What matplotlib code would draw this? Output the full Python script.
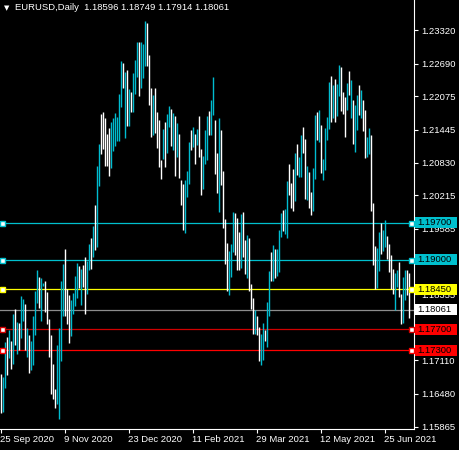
import matplotlib
matplotlib.use("Agg")
import matplotlib.pyplot as plt
from matplotlib.patches import Rectangle
from matplotlib.transforms import blended_transform_factory

plt.rcParams['font.family'] = ['Liberation Sans', 'DejaVu Sans']

# ---- data ----
symbol = "EURUSD,Daily"
last_ohlc = [1.18596, 1.18749, 1.17914, 1.18061]

highs = [
    1.16853, 1.16796, 1.17454, 1.17548, 1.17680, 1.17473, 1.17981, 1.18075, 1.17830, 1.17812,
    1.18319, 1.18263, 1.18169, 1.17718, 1.17586, 1.17473, 1.17943, 1.18413, 1.18808, 1.18676,
    1.18658, 1.18564, 1.18601, 1.18394, 1.17887, 1.17586, 1.17041, 1.16571, 1.17398, 1.17718,
    1.18601, 1.18921, 1.19203, 1.18451, 1.18338, 1.18244, 1.18376, 1.18695, 1.18940, 1.18883,
    1.18827, 1.18902, 1.19052, 1.18977, 1.19297, 1.19410, 1.19635, 1.20030, 1.20763, 1.21177,
    1.21741, 1.21778, 1.21666, 1.21365, 1.21478, 1.21590, 1.21666, 1.21760, 1.21684, 1.22117,
    1.22737, 1.22700, 1.22530, 1.22568, 1.22211, 1.22154, 1.22512, 1.22756, 1.23094, 1.23094,
    1.23094, 1.23057, 1.23489, 1.23452, 1.22850, 1.22230, 1.22098, 1.22230, 1.21778, 1.21628,
    1.20876, 1.21459, 1.21590, 1.21741, 1.21891, 1.21835, 1.21760, 1.21703, 1.21572, 1.21365,
    1.20500, 1.20425, 1.20500, 1.20669, 1.21214, 1.21440, 1.21496, 1.21365, 1.21459, 1.21703,
    1.21083, 1.20951, 1.21440, 1.21703, 1.21797, 1.22004, 1.22436, 1.21628, 1.21008, 1.21666,
    1.21440, 1.20669, 1.19767, 1.19316, 1.19165, 1.19297, 1.19898, 1.19880, 1.19786, 1.19522,
    1.19861, 1.19898, 1.19372, 1.19466, 1.19410, 1.18545, 1.18282, 1.18056, 1.17943, 1.17736,
    1.17605, 1.17812, 1.17680, 1.18206, 1.18789, 1.19146, 1.19278, 1.19203, 1.19203, 1.19560,
    1.19880, 1.19936, 1.19955, 1.20481, 1.20801, 1.20444, 1.20707, 1.21008, 1.21177, 1.20932,
    1.21346, 1.21496, 1.21271, 1.20763, 1.20650, 1.20274, 1.20726, 1.21722, 1.21778, 1.21816,
    1.21534, 1.20895, 1.21478, 1.21684, 1.22342, 1.22455, 1.22286, 1.22399, 1.22305, 1.22662,
    1.22624, 1.22154, 1.22060, 1.22324, 1.22549, 1.22380, 1.22004, 1.21910, 1.22098, 1.22286,
    1.22192, 1.22004, 1.21816, 1.21308, 1.21478, 1.21346, 1.20068, 1.19259, 1.19222, 1.19522,
    1.19692, 1.19560, 1.19748, 1.19447, 1.19297, 1.19090, 1.18827, 1.18752, 1.18808, 1.18958,
    1.18357, 1.18676, 1.18808, 1.18808, 1.18749,
]
lows = [
    1.16120, 1.16138, 1.16590, 1.16834, 1.17154, 1.16947, 1.17041, 1.17398, 1.17229, 1.17304,
    1.17530, 1.17849, 1.17304, 1.17172, 1.16872, 1.16928, 1.17022, 1.17586, 1.18188, 1.18094,
    1.17849, 1.18507, 1.18018, 1.17793, 1.17172, 1.16477, 1.16383, 1.16214, 1.16289, 1.16007,
    1.17097, 1.17943, 1.17943, 1.17793, 1.17436, 1.17567, 1.17981, 1.18131, 1.18282, 1.18470,
    1.18150, 1.18488, 1.17981, 1.18357, 1.18808, 1.18827, 1.19052, 1.19184, 1.19240, 1.20387,
    1.20989, 1.21083, 1.20763, 1.20763, 1.20575, 1.20726, 1.21045, 1.21139, 1.21233, 1.21233,
    1.21872, 1.22230, 1.21290, 1.21515, 1.21515, 1.21778, 1.21778, 1.22117, 1.22436, 1.22079,
    1.22230, 1.22418, 1.22643, 1.22643, 1.21910, 1.21308, 1.21346, 1.21384, 1.21102, 1.20744,
    1.20519, 1.20895, 1.20744, 1.21008, 1.21496, 1.21139, 1.21064, 1.20575, 1.20932, 1.20538,
    1.20030, 1.19560, 1.19504, 1.20180, 1.20425, 1.21064, 1.21120, 1.20801, 1.21158, 1.20932,
    1.20218, 1.20331, 1.20801, 1.20876, 1.21346, 1.21346, 1.21722, 1.20613, 1.20256, 1.19898,
    1.20406, 1.19598, 1.18921, 1.18413, 1.18338, 1.18676, 1.19146, 1.19090, 1.18808, 1.18808,
    1.18846, 1.19052, 1.18733, 1.18658, 1.18413, 1.18075, 1.17605, 1.17605, 1.17586, 1.17097,
    1.17022, 1.17116, 1.17473, 1.17360, 1.17943, 1.18601, 1.18601, 1.18658, 1.18695, 1.18770,
    1.19428, 1.19541, 1.19485, 1.19410, 1.20218, 1.19974, 1.19917, 1.20105, 1.20594, 1.20556,
    1.20556, 1.21008, 1.20143, 1.20124, 1.19974, 1.19842, 1.19917, 1.20519, 1.21252, 1.21214,
    1.20632, 1.20500, 1.20688, 1.21252, 1.21459, 1.21590, 1.21666, 1.21590, 1.21703, 1.22079,
    1.21797, 1.21741, 1.21308, 1.21816, 1.22098, 1.21666, 1.21177, 1.21026, 1.21440, 1.21722,
    1.21666, 1.21421, 1.20914, 1.20932, 1.20989, 1.19917, 1.18902, 1.18451, 1.18470, 1.18789,
    1.19109, 1.19165, 1.19240, 1.19015, 1.18770, 1.18451, 1.18357, 1.18056, 1.18488, 1.18300,
    1.17793, 1.17812, 1.18244, 1.18338, 1.17914,
]
# u = up bar, d = down bar
direction = (
    "duudu" "dudud" "uudud" "uuuud" "uuddd" "ddduu" "uuddd"
    "uuuud" "udduu" "duduu" "ddddd" "uuuuu" "ududu" "duuud"
    "uuudd" "duddd" "duduu" "dudud" "dduuu" "dudud" "duuud"
    "uuddu" "ddddu" "uuddd" "uddud" "ddudd" "uuduu" "duduu"
    "uduud" "ddudu" "uddud" "duudu" "duuuu" "duduu" "dddud"
    "uduud" "udduu" "ddduu" "duudd" "dduud" "duudd"
)

date_bars = [0, 32, 64, 96, 128, 160, 192]
date_labels = ["25 Sep 2020", "9 Nov 2020", "23 Dec 2020", "11 Feb 2021",
               "29 Mar 2021", "12 May 2021", "25 Jun 2021"]

price_ticks = [1.23320, 1.22690, 1.22075, 1.21445, 1.20830, 1.20215, 1.19585,
               1.18970, 1.18355, 1.17725, 1.17110, 1.16480, 1.15865]

levels = [1.19700, 1.19000, 1.18450, 1.17700, 1.17300]
level_colors = ['#00C0CE', '#00C0CE', '#FFFF00', '#D00000', '#FF0000']
label_colors = ['#00C0CE', '#00C0CE', '#FFFF00', '#FF0000', '#FF0000']
bid = last_ohlc[3]

up_color = '#00BCD0'
down_color = '#FFFFFF'

# ---- figure ----
W, H = 459, 450
fig = plt.figure(figsize=(W / 100, H / 100), dpi=100, facecolor='black')
ax = fig.add_axes([0, 21 / H, 414 / W, 429 / H], facecolor='black')

ymin, ymax = 1.15822, 1.23884
ax.set_ylim(ymin, ymax)
ax.set_xlim(-0.25, 206.75)
px = (ymax - ymin) / 429.0

up_x = [i for i, d in enumerate(direction) if d == 'u']
dn_x = [i for i, d in enumerate(direction) if d == 'd']
ax.vlines(up_x, [lows[i] for i in up_x], [highs[i] for i in up_x],
          color=up_color, linewidth=1.0, zorder=3)
ax.vlines(dn_x, [lows[i] for i in dn_x], [highs[i] for i in dn_x],
          color=down_color, linewidth=1.0, zorder=3)

tr = blended_transform_factory(ax.transAxes, ax.transData)

# level lines with end handles and price boxes
for lvl, lc, bc in zip(levels, level_colors, label_colors):
    ax.axhline(lvl, color=lc, linewidth=0.9, zorder=2)
    ax.plot([0.006, 0.9925], [lvl, lvl], 's', transform=tr, markersize=3.6,
            markerfacecolor='white', markeredgecolor=lc, markeredgewidth=1.0,
            clip_on=False, zorder=4)
    ax.add_patch(Rectangle((1.0024, lvl - 5.5 * px), 0.1015, 11 * px, transform=tr,
                           facecolor=bc, edgecolor='none', clip_on=False, zorder=6))
    ax.text(1.0085, lvl, f"{lvl:.5f}", transform=tr, ha='left', va='center',
            fontsize=6.8, color='black', clip_on=False, zorder=7)

# bid line
ax.axhline(bid, color='#8C8C8C', linewidth=0.9, zorder=2)
ax.add_patch(Rectangle((1.0024, bid - 5.5 * px), 0.1015, 11 * px, transform=tr,
                       facecolor='white', edgecolor='none', clip_on=False, zorder=6))
ax.text(1.0085, bid, f"{bid:.5f}", transform=tr, ha='left', va='center',
        fontsize=6.8, color='black', clip_on=False, zorder=7)

# axes styling
for s in ['top', 'left']:
    ax.spines[s].set_visible(False)
for s in ['right', 'bottom']:
    ax.spines[s].set_color('white')
    ax.spines[s].set_linewidth(0.8)

ax.yaxis.tick_right()
ax.set_yticks(price_ticks, [f"{p:.5f}" for p in price_ticks])
ax.tick_params(axis='y', colors='white', direction='out', length=3, width=0.8,
               labelsize=6.8, pad=2)

ax.set_xticks(date_bars, date_labels)
ax.tick_params(axis='x', colors='white', direction='out', length=3, width=0.8,
               labelsize=6.8, pad=1.5)
for lab in ax.get_xticklabels():
    lab.set_horizontalalignment('left')

# header
fig.text(4 / W, 1 - 8 / H, "\u25BC", family='DejaVu Sans', fontsize=5,
         color='white', va='center', ha='left')
header = symbol + "  " + " ".join(f"{v:.5f}" for v in last_ohlc)
fig.text(15 / W, 1 - 8 / H, header, fontsize=6.8, color='white', va='center', ha='left')

fig.savefig("out.png", dpi=100, facecolor='black')
